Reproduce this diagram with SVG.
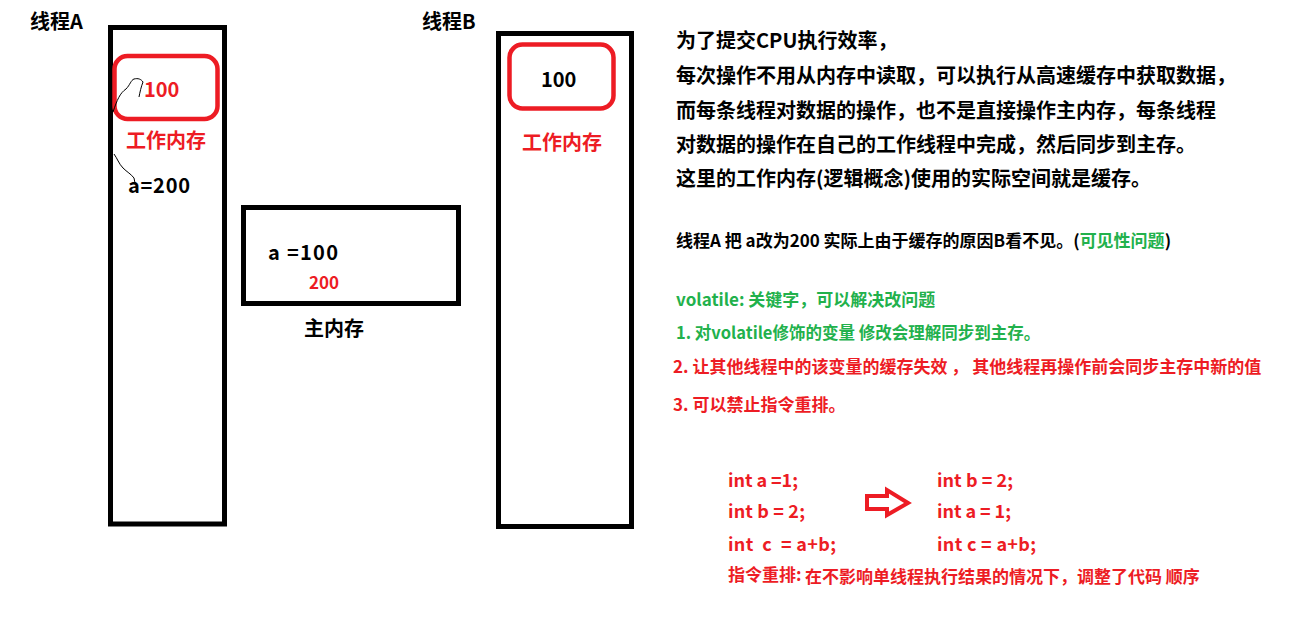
<svg xmlns="http://www.w3.org/2000/svg" width="1305" height="631" viewBox="0 0 1305 631">
<style>
text{font-family:"Noto Sans CJK SC","Liberation Sans",sans-serif;font-weight:bold}
.k{fill:#000}
.r{fill:#ed1c24}
.g{fill:#22b14c}
.box{fill:none;stroke:#000;stroke-width:5}
.rbox{fill:none;stroke:#ed1c24;stroke-width:4.5}
.sq{fill:none;stroke:#000;stroke-width:1}
</style>
<rect width="1305" height="631" fill="#fff"/>
<g id="threadA">
<text x="30" y="29" font-size="20" class="k">线程A</text>
<rect x="110.5" y="27.5" width="114" height="496.5" class="box"/>
<rect x="114.5" y="56" width="103" height="63" rx="13" class="rbox"/>
<text x="144" y="97" font-size="20" class="r">100</text>
<text x="126" y="148" font-size="20" class="r">工作内存</text>
<text x="128" y="193" font-size="20" class="k" textLength="62" lengthAdjust="spacing">a=200</text>
</g>
<g id="threadB">
<text x="422" y="29" font-size="20" class="k">线程B</text>
<rect x="498.5" y="33.5" width="133" height="493" class="box"/>
<rect x="509.5" y="44.5" width="104" height="64" rx="13" class="rbox"/>
<text x="541" y="87" font-size="20" class="k">100</text>
<text x="522" y="150" font-size="20" class="r">工作内存</text>
</g>
<g id="mainMemory">
<rect x="243.5" y="207.5" width="215" height="96" class="box"/>
<text x="268" y="260" font-size="20" class="k" textLength="70" lengthAdjust="spacing">a =100</text>
<text x="309" y="289" font-size="17" class="r">200</text>
<text x="304" y="336" font-size="20" class="k">主内存</text>
</g>
<g id="connectors">
<path d="M113 112 C117 100 120 93 126 89 C130 85 131 80 134 79 C138 78 141 79 143 82 C141 87 140 92 139 97" class="sq"/>
<path d="M114 154 C117 158 119 164 123 168 C127 172 131 174 134 178 L135 183" class="sq"/>
<path d="M867 496 L887 496 L887 490 L908 503 L887 515 L887 509 L867 509 Z" fill="none" stroke="#ed1c24" stroke-width="4"/>
</g>
<g id="notes">
<text x="676" y="48" font-size="20" class="k">为了提交CPU执行效率，</text>
<text x="676" y="83" font-size="20" class="k">每次操作不用从内存中读取，可以执行从高速缓存中获取数据，</text>
<text x="676" y="118" font-size="20" class="k">而每条线程对数据的操作，也不是直接操作主内存，每条线程</text>
<text x="676" y="152" font-size="20" class="k">对数据的操作在自己的工作线程中完成，然后同步到主存。</text>
<text x="676" y="186" font-size="20" class="k">这里的工作内存(逻辑概念)使用的实际空间就是缓存。</text>
<text x="676" y="247" font-size="17" class="k">线程A 把 a改为200 实际上由于缓存的原因B看不见。(<tspan class="g">可见性问题</tspan>)</text>
<text x="676" y="306" font-size="17" class="g">volatile: 关键字，可以解决改问题</text>
<text x="676" y="339" font-size="16.5" class="g">1. 对volatile修饰的变量 修改会理解同步到主存。</text>
<text x="673" y="373" font-size="17" class="r">2. 让其他线程中的该变量的缓存失效 ， 其他线程再操作前会同步主存中新的值</text>
<text x="673" y="411" font-size="17" class="r">3. 可以禁止指令重排。</text>
</g>
<g id="code">
<text x="728" y="487" font-size="18" class="r" textLength="70" lengthAdjust="spacing">int a =1;</text>
<text x="728" y="518" font-size="18" class="r" textLength="77" lengthAdjust="spacing">int b = 2;</text>
<text x="728" y="551" font-size="18" class="r" xml:space="preserve" textLength="108" lengthAdjust="spacing">int  c  = a+b;</text>
<text x="937" y="487" font-size="18" class="r" textLength="76" lengthAdjust="spacing">int b = 2;</text>
<text x="937" y="518" font-size="18" class="r" textLength="74" lengthAdjust="spacing">int a = 1;</text>
<text x="937" y="551" font-size="18" class="r" textLength="99" lengthAdjust="spacing">int c = a+b;</text>
<text x="728" y="581" font-size="17" class="r">指令重排:</text>
<text x="805" y="583" font-size="17" class="r">在不影响单线程执行结果的情况下，调整了代码 顺序</text>
</g>
</svg>
